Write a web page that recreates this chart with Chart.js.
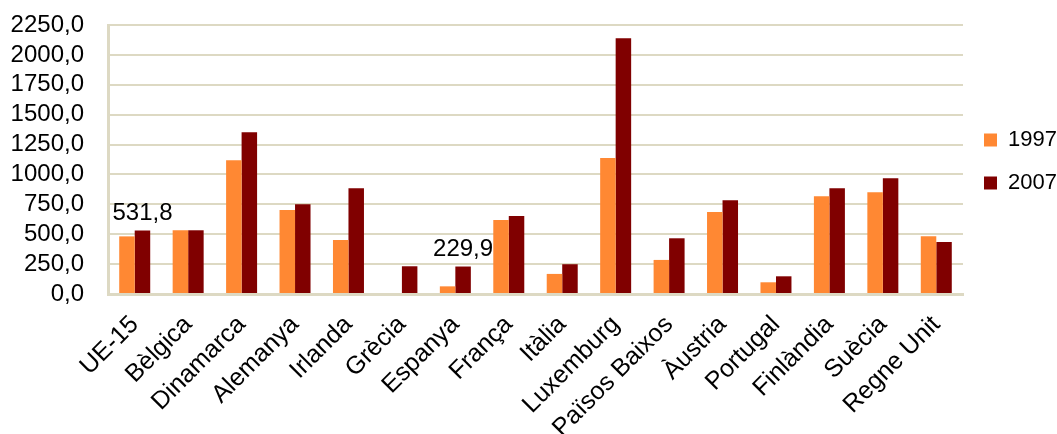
<!DOCTYPE html>
<html>
<head>
<meta charset="utf-8">
<script src="https://cdn.jsdelivr.net/npm/chart.js@4"></script>
<style>
  body { margin: 0; background: #fff; }
  #wrap { width: 1057px; height: 434px; }
</style>
</head>
<body>
<div id="wrap"><canvas id="chart" width="1057" height="434"></canvas></div>
<script>
const countries = ['UE-15', 'Bèlgica', 'Dinamarca', 'Alemanya', 'Irlanda', 'Grècia', 'Espanya', 'França',
  'Itàlia', 'Luxemburg', 'Països Baixos', 'Àustria', 'Portugal', 'Finlàndia', 'Suècia', 'Regne Unit'];
const y1997 = [482, 533, 1119, 703, 452, null, 64, 619, 168, 1138, 285, 686, 98, 817, 851, 483];
const y2007 = [531.8, 533, 1353, 750, 884, 232, 229.9, 653, 249, 2139, 466, 784, 148, 884, 968, 435];
const yTicksMax = 2250;
const yStep = 250;
// points that carry a value label (dataset index, category index)
const labelled = [[1, 0], [1, 6]];

const fmt = v => Number(v).toFixed(1).replace('.', ',');
const FONT = 'Liberation Sans, Arial, sans-serif';
const grid = '#DDD9C3';

const valueLabels = {
  id: 'valueLabels',
  afterDatasetsDraw(chart) {
    const ctx = chart.ctx;
    ctx.save();
    ctx.font = '24px ' + FONT;
    ctx.fillStyle = '#000';
    ctx.textAlign = 'center';
    ctx.textBaseline = 'bottom';
    labelled.forEach(([d, i]) => {
      const el = chart.getDatasetMeta(d).data[i];
      ctx.fillText(fmt(chart.data.datasets[d].data[i]), el.x, el.y - 5);
    });
    ctx.restore();
  }
};

new Chart(document.getElementById('chart'), {
  type: 'bar',
  data: {
    labels: countries,
    datasets: [
      { label: '1997', data: y1997, backgroundColor: '#FF8833' },
      { label: '2007', data: y2007, backgroundColor: '#800000' }
    ]
  },
  options: {
    responsive: false,
    animation: false,
    layout: { padding: 0 },
    datasets: { bar: { categoryPercentage: 0.58, barPercentage: 1.0 } },
    plugins: {
      legend: {
        position: 'right',
        align: 'start',
        maxWidth: 94,
        // empty title only used to push the items down
        title: { display: true, text: '', font: { size: 10 }, padding: { top: 96, bottom: 0 } },
        labels: {
          font: { family: FONT, size: 22 },
          color: '#000',
          boxWidth: 13,
          boxHeight: 13,
          padding: 21
        }
      },
      tooltip: { enabled: false }
    },
    scales: {
      x: {
        grid: { display: false, drawTicks: false },
        border: { color: grid, width: 3 },
        ticks: {
          color: '#000',
          font: { family: FONT, size: 25 },
          maxRotation: 45, minRotation: 45,
          autoSkip: false,
          padding: 16
        },
        afterFit: s => { s.height = 140; }
      },
      y: {
        min: 0, max: yTicksMax,
        grid: { color: grid, lineWidth: 2, drawTicks: false },
        border: { color: grid, width: 3 },
        ticks: {
          stepSize: yStep,
          autoSkip: false,
          color: '#000',
          font: { family: FONT, size: 24 },
          padding: 24,
          callback: v => fmt(v)
        },
        afterFit: s => { s.width = 108; s.paddingTop = 25; }
      }
    }
  },
  plugins: [valueLabels]
});
</script>
</body>
</html>
